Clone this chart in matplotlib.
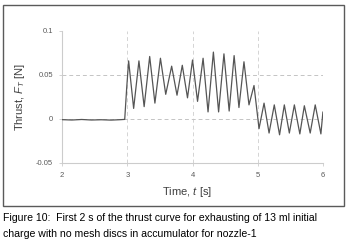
import numpy as np
import matplotlib
matplotlib.use("Agg")
import matplotlib.pyplot as plt
from matplotlib.patches import Rectangle

# data (time in s, thrust in N)
time_s = [2.00, 2.15, 2.30, 2.45, 2.60, 2.75, 2.90, 2.96, 2.99,
          3.020, 3.097, 3.178, 3.258, 3.343, 3.423, 3.508, 3.589,
          3.680, 3.762, 3.843, 3.923, 4.000, 4.077, 4.162, 4.238,
          4.320, 4.400, 4.482, 4.562, 4.638, 4.712, 4.789, 4.866,
          4.943, 5.020, 5.097, 5.174, 5.254, 5.335, 5.408, 5.485,
          5.562, 5.646, 5.715, 5.805, 5.882, 5.969, 6.00]
thrust = [-0.0008, -0.0012, -0.0006, -0.0012, -0.0009, -0.0013, -0.0008, -0.0005, 0.035,
          0.066, 0.012, 0.066, 0.014, 0.071, 0.018, 0.069, 0.028,
          0.060, 0.027, 0.061, 0.024, 0.067, 0.020, 0.069, 0.008,
          0.076, 0.008, 0.074, 0.009, 0.072, 0.013, 0.065, 0.016,
          0.038, -0.011, 0.018, -0.016, 0.016, -0.018, 0.016, -0.016,
          0.016, -0.017, 0.015, -0.016, 0.016, -0.017, 0.008]

x_ticks = [2, 3, 4, 5, 6]
y_ticks = [-0.05, 0, 0.05, 0.1]
y_tick_labels = ["-0.05", "0", "0.05", "0.1"]

plt.rcParams['font.family'] = ['Liberation Sans', 'DejaVu Sans']
plt.rcParams['mathtext.fontset'] = 'custom'
plt.rcParams['mathtext.rm'] = 'Liberation Sans'
plt.rcParams['mathtext.it'] = 'Liberation Sans:italic'

fig = plt.figure(figsize=(3.51, 2.40), dpi=100)
ax = fig.add_axes([0.177, 0.321, 0.743, 0.550])

# grid (dashed, light)
for xv in [3, 4, 5]:
    ax.axvline(xv, color="#d4d4d4", lw=0.7, ls=(0, (4, 3)), zorder=1)
for yv in [0, 0.05]:
    ax.axhline(yv, color="#c4c4c4", lw=0.7, ls=(0, (4, 3)), zorder=1)

ax.plot(time_s, thrust, color="#555555", lw=0.9, zorder=3,
        solid_joinstyle="round", solid_capstyle="round")

ax.set_xlim(2, 6)
ax.set_ylim(-0.05, 0.1)
ax.set_xticks(x_ticks)
ax.set_yticks(y_ticks)
ax.set_yticklabels(y_tick_labels)

for s in ["top", "right"]:
    ax.spines[s].set_visible(False)
for s in ["left", "bottom"]:
    ax.spines[s].set_color("#cccccc")
    ax.spines[s].set_linewidth(0.8)

ax.tick_params(axis="both", labelsize=5.5, colors="#cccccc", labelcolor="#595959",
               length=2.5, width=0.6)
ax.tick_params(axis="x", pad=4)
ax.tick_params(axis="y", pad=4)

ax.set_xlabel("Time, $t$ [s]", fontsize=8, color="#404040")
ax.xaxis.set_label_coords(0.48, -0.165)
ax.set_ylabel("Thrust, $F_T$ [N]", fontsize=8, color="#404040")
ax.yaxis.set_label_coords(-0.135, 0.5)

# chart frame
fig.patches.append(Rectangle((0.0085, 0.1417), 0.9715, 0.8375, transform=fig.transFigure,
                             fill=False, edgecolor="#5a5a5a", lw=1.0))

fig.text(0.0085, 0.092, "Figure 10:  First 2 s of the thrust curve for exhausting of 13 ml initial",
         fontsize=7.55, va="center", ha="left", color="black")
fig.text(0.0085, 0.027, "charge with no mesh discs in accumulator for nozzle-1",
         fontsize=7.55, va="center", ha="left", color="black")

fig.savefig("out.png", dpi=100)
